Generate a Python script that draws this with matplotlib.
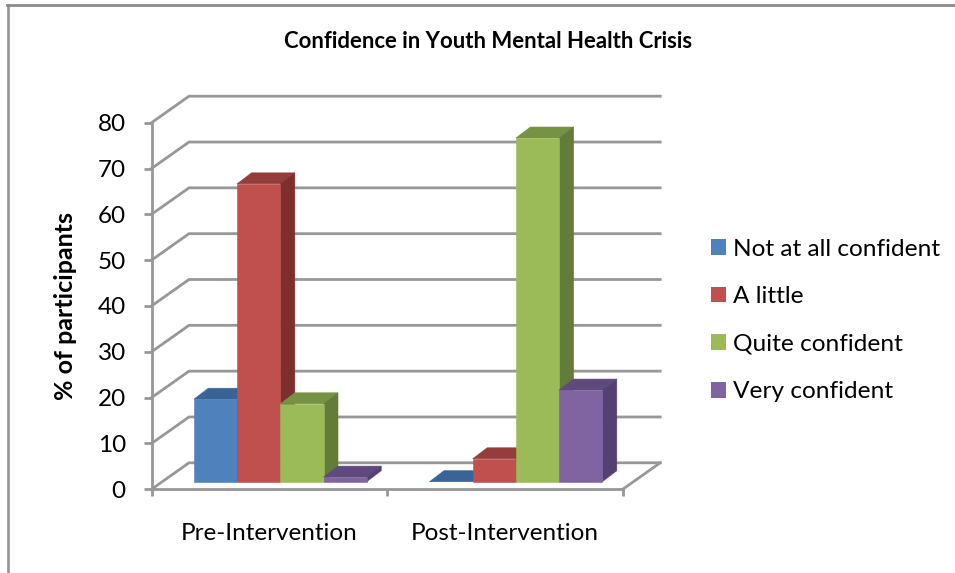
import matplotlib
matplotlib.use("Agg")
import matplotlib.pyplot as plt
from matplotlib.patches import Patch, Polygon

plt.rcParams["font.family"] = ["Lato", "DejaVu Sans"]

# Survey results, percent of participants
groups = ["Pre-Intervention", "Post-Intervention"]
levels = ["Not at all confident", "A little", "Quite confident", "Very confident"]
pre_values = [18, 65, 17, 1]
post_values = [0, 5, 75, 20]
y_ticks = [0, 10, 20, 30, 40, 50, 60, 70, 80]

front_colors = ["#4F81BD", "#C0504D", "#9BBB59", "#8064A2"]
top_colors = ["#3A6496", "#943E3C", "#779244", "#5F4A7E"]
side_colors = ["#2F5480", "#7C2F2D", "#647C3A", "#544072"]
grid_color = "#979797"
frame_color = "#999999"

W, H = 955, 573
fig = plt.figure(figsize=(W / 100, H / 100), dpi=100, facecolor="white")

# Front plane of the chart box, in figure pixels
left, right, base, top = 151.5, 622.7, 489.3, 122.7
ax = fig.add_axes([left / W, 1 - base / H, (right - left) / W, (base - top) / H])
ax.set_xlim(0, len(groups))
ax.set_ylim(0, 80)
ax.patch.set_visible(False)

# Oblique depth, converted from pixels to data units
ux = len(groups) / (right - left)
uy = 80 / (base - top)
wall_dx, wall_dy = 37.5 * ux, 26.5 * uy
bar_dx, bar_dy = 14.5 * ux, 11.0 * uy
inset_dx, inset_dy = 11.0 * ux, 7.6 * uy
bar_w = 0.1834
line_w = 2.0


def poly(points, color, z):
    ax.add_patch(Polygon(points, closed=True, facecolor=color, edgecolor=color,
                         linewidth=0.4, zorder=z, clip_on=False))


# Receding wall gridlines and the floor outline
for v in y_ticks:
    ax.plot([0, wall_dx, len(groups) + wall_dx], [v, v + wall_dy, v + wall_dy],
            color=grid_color, lw=line_w, clip_on=False, zorder=1,
            solid_joinstyle="miter")
ax.plot([len(groups), len(groups) + wall_dx], [0, wall_dy],
        color=grid_color, lw=line_w, clip_on=False, zorder=1)

# Bars painted left to right so nearer faces overlap correctly
z = 3
for g, values in enumerate([pre_values, post_values]):
    start = g + (1 - bar_w * len(levels)) / 2 + inset_dx
    for i, v in enumerate(values):
        x0 = start + i * bar_w
        x1 = x0 + bar_w
        y0 = inset_dy
        y1 = y0 + v
        poly([(x0, y1), (x1, y1), (x1 + bar_dx, y1 + bar_dy), (x0 + bar_dx, y1 + bar_dy)],
             top_colors[i], z)
        if v > 0:
            poly([(x1, y0), (x1 + bar_dx, y0 + bar_dy), (x1 + bar_dx, y1 + bar_dy), (x1, y1)],
                 side_colors[i], z)
            poly([(x0, y0), (x1, y0), (x1, y1), (x0, y1)], front_colors[i], z + 0.5)
        z += 1

# Axes
for name in ("top", "right"):
    ax.spines[name].set_visible(False)
for name in ("left", "bottom"):
    ax.spines[name].set_color(grid_color)
    ax.spines[name].set_linewidth(line_w)
    ax.spines[name].set_zorder(2)
ax.set_yticks(y_ticks)
ax.set_xticks(range(len(groups) + 1))
ax.set_xticklabels([])
ax.set_xticks([g + 0.5 for g in range(len(groups))], minor=True)
ax.set_xticklabels(groups, minor=True)
ax.tick_params(axis="y", length=6, width=line_w, color=grid_color, pad=12.5,
               labelsize=17.5, labelcolor="black")
ax.tick_params(axis="x", which="major", length=5, width=line_w, color=grid_color)
ax.tick_params(axis="x", which="minor", length=0, pad=24.2, labelsize=17.5,
               labelcolor="black")
ax.set_ylabel("% of participants", fontsize=18, fontweight="bold", labelpad=15)

fig.text(488.5 / W, 1 - 42 / H, "Confidence in Youth Mental Health Crisis",
         fontsize=15.9, fontweight="bold", ha="center", va="center")

# Legend
handles = [Patch(facecolor=c, edgecolor="none") for c in front_colors]
fig.legend(handles, levels, loc="center left", bbox_to_anchor=(711 / W, 1 - 320.5 / H),
           frameon=False, fontsize=17.6, handlelength=0.61, handleheight=0.61,
           handletextpad=0.3, labelspacing=1.09, borderpad=0, borderaxespad=0)

# Outer frame: top and left edges only
fig.add_artist(plt.Line2D([8 / W, 8 / W], [0, 1 - 5 / H], color=frame_color, lw=2))
fig.add_artist(plt.Line2D([7 / W, 1], [1 - 5 / H, 1 - 5 / H], color="#8C8C8C", lw=2))

fig.savefig("out.png", dpi=100, facecolor="white")
